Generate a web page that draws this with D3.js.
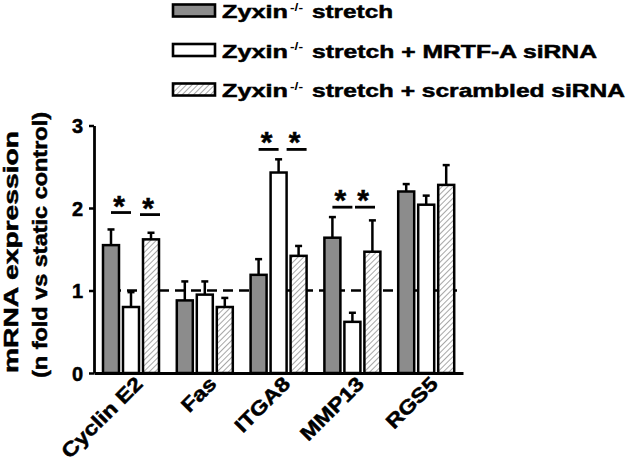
<!DOCTYPE html>
<html>
<head>
<meta charset="utf-8">
<script src="https://cdn.jsdelivr.net/npm/d3@7"></script>
<style>
  body { margin: 0; background: #fff; }
  svg text { font-family: "Liberation Sans", Arial, sans-serif; font-weight: bold; fill: #000; }
  .heavy { stroke: #000; stroke-width: 0.5px; }
</style>
</head>
<body>
<div id="plot"></div>
<script>
  // data
  var genes = ["Cyclin E2", "Fas", "ITGA8", "MMP13", "RGS5"];
  var groups = ["stretch", "mrtf", "scrambled"];
  var legendLabels = ["stretch", "stretch + MRTF-A siRNA", "stretch + scrambled siRNA"];

  var stretchMean   = [1.55, 0.88, 1.19, 1.64, 2.20];
  var stretchSem    = [0.19, 0.23, 0.19, 0.25, 0.09];
  var mrtfMean      = [0.80, 0.95, 2.43, 0.62, 2.04];
  var mrtfSem       = [0.18, 0.16, 0.16, 0.11, 0.11];
  var scrambledMean = [1.62, 0.80, 1.42, 1.47, 2.28];
  var scrambledSem  = [0.08, 0.11, 0.12, 0.38, 0.24];

  var yTicks = [0, 1, 2, 3];
  var refLevel = 1;

  // significance bars: gene, from/to bar index, level
  var sigGene  = ["Cyclin E2", "Cyclin E2", "ITGA8", "ITGA8", "MMP13", "MMP13"];
  var sigFrom  = [0, 1.45, 0, 1.4, 0, 1.13];
  var sigTo    = [1, 2.45, 1, 2.4, 1, 2.13];
  var sigLevel = [1.945, 1.92, 2.71, 2.71, 2.01, 2.01];

  var width = 626, height = 464;

  var svg = d3.select("#plot")
      .append("svg")
      .attr("width", width)
      .attr("height", height);

  var defs = svg.append("defs");
  defs.append("pattern")
      .attr("id", "hatch")
      .attr("patternUnits", "userSpaceOnUse")
      .attr("width", 4)
      .attr("height", 4)
      .attr("patternTransform", "rotate(45)")
    .call(function(p) {
      p.append("rect").attr("width", 4).attr("height", 4).attr("fill", "#fff");
      p.append("line").attr("x1", 0).attr("y1", 0).attr("x2", 0).attr("y2", 4)
        .attr("stroke", "#777").attr("stroke-width", 1.3);
    });

  var fills = {stretch: "#8c8c8c", mrtf: "#fff", scrambled: "url(#hatch)"};

  var x0 = d3.scaleBand().domain(genes).range([94, 463]);
  var x1 = d3.scaleBand().domain(groups).range([9, 65]).paddingInner(0.2);
  var y = d3.scaleLinear().domain([0, 3]).range([373, 125.5]);

  function barCenter(gene, i) {
    return x0(gene) + x1(groups[0]) + x1.bandwidth() / 2 + i * x1.step();
  }

  var data = [];
  genes.forEach(function(g, i) {
    data.push({gene: g, key: "stretch", mean: stretchMean[i], sem: stretchSem[i]});
    data.push({gene: g, key: "mrtf", mean: mrtfMean[i], sem: mrtfSem[i]});
    data.push({gene: g, key: "scrambled", mean: scrambledMean[i], sem: scrambledSem[i]});
  });

  // reference line
  svg.append("line")
    .attr("x1", barCenter(genes[0], 0))
    .attr("x2", x0.range()[1] - 1)
    .attr("y1", y(refLevel))
    .attr("y2", y(refLevel))
    .attr("stroke", "#000")
    .attr("stroke-width", 2.5)
    .attr("stroke-dasharray", "10,6");

  // error bars
  var eb = svg.selectAll(".err").data(data).enter().append("g").attr("class", "err");
  eb.append("line")
    .attr("x1", function(d) { return x0(d.gene) + x1(d.key) + x1.bandwidth() / 2; })
    .attr("x2", function(d) { return x0(d.gene) + x1(d.key) + x1.bandwidth() / 2; })
    .attr("y1", function(d) { return y(d.mean); })
    .attr("y2", function(d) { return y(d.mean + d.sem); })
    .attr("stroke", "#000").attr("stroke-width", 2.5);
  eb.append("line")
    .attr("x1", function(d) { return x0(d.gene) + x1(d.key) + x1.bandwidth() / 2 - 3.5; })
    .attr("x2", function(d) { return x0(d.gene) + x1(d.key) + x1.bandwidth() / 2 + 3.5; })
    .attr("y1", function(d) { return y(d.mean + d.sem); })
    .attr("y2", function(d) { return y(d.mean + d.sem); })
    .attr("stroke", "#000").attr("stroke-width", 2.5);

  // bars
  svg.selectAll(".bar")
    .data(data)
    .enter().append("rect")
      .attr("class", "bar")
      .attr("x", function(d) { return x0(d.gene) + x1(d.key); })
      .attr("width", x1.bandwidth())
      .attr("y", function(d) { return y(d.mean); })
      .attr("height", function(d) { return y(0) - y(d.mean); })
      .attr("fill", function(d) { return fills[d.key]; })
      .attr("stroke", "#000")
      .attr("stroke-width", 2.5);

  // significance
  var sig = sigGene.map(function(g, i) {
    return {gene: g, from: sigFrom[i], to: sigTo[i], level: sigLevel[i]};
  });
  svg.selectAll(".sig").data(sig).enter().append("line")
    .attr("x1", function(d) { return barCenter(d.gene, d.from); })
    .attr("x2", function(d) { return barCenter(d.gene, d.to); })
    .attr("y1", function(d) { return y(d.level); })
    .attr("y2", function(d) { return y(d.level); })
    .attr("stroke", "#000").attr("stroke-width", 2.8);
  svg.selectAll(".star").data(sig).enter().append("text")
    .attr("class", "heavy")
    .attr("x", function(d) { return (barCenter(d.gene, d.from) + barCenter(d.gene, d.to)) / 2 - 2; })
    .attr("y", function(d) { return y(d.level) + 3; })
    .attr("text-anchor", "middle")
    .style("font-size", "30px")
    .text("*");

  // y axis
  var yAxis = svg.append("g")
    .attr("transform", "translate(94,0)")
    .call(d3.axisLeft(y).tickValues(yTicks).tickFormat(d3.format("d"))
      .tickSize(5).tickSizeOuter(0).tickPadding(6));
  yAxis.select(".domain").attr("stroke-width", 2.8);
  yAxis.selectAll(".tick line").attr("stroke-width", 2.5);
  yAxis.selectAll(".tick text").attr("class", "heavy").style("font-size", "20px").attr("dy", "0.36em");

  // x axis
  var xAxis = svg.append("g")
    .attr("transform", "translate(0,373)")
    .call(d3.axisBottom(x0).tickSize(0).tickSizeOuter(0));
  xAxis.select(".domain").attr("stroke-width", 2.8);
  xAxis.selectAll(".tick text")
    .attr("class", "heavy")
    .attr("y", null).attr("dy", null)
    .attr("text-anchor", "end")
    .attr("transform", "translate(13,12) rotate(-45) scale(1.17,1)")
    .style("font-size", "20px");

  // y title
  var yTitle = svg.append("g");
  yTitle.append("text")
    .attr("class", "heavy")
    .attr("transform", "translate(18,252) rotate(-90)")
    .attr("text-anchor", "middle")
    .attr("textLength", 242)
    .attr("lengthAdjust", "spacingAndGlyphs")
    .style("font-size", "20px")
    .text("mRNA expression");
  yTitle.append("text")
    .attr("class", "heavy")
    .attr("transform", "translate(47,245) rotate(-90)")
    .attr("text-anchor", "middle")
    .attr("textLength", 266)
    .attr("lengthAdjust", "spacingAndGlyphs")
    .style("font-size", "20px")
    .text("(n fold vs static control)");

  // legend
  var legendY = [10.5, 50, 89.5];
  var legendEnd = [393, 597, 625];
  var legend = svg.selectAll(".legend").data(groups).enter().append("g")
    .attr("class", "legend")
    .attr("transform", function(d, i) { return "translate(0," + legendY[i] + ")"; });
  legend.append("rect")
    .attr("x", 173).attr("y", -6).attr("width", 42).attr("height", 12)
    .attr("fill", function(d) { return fills[d]; })
    .attr("stroke", "#000").attr("stroke-width", 2.6);
  legend.append("text")
    .attr("class", "heavy")
    .attr("x", 222).attr("y", 7.5)
    .attr("textLength", 66).attr("lengthAdjust", "spacingAndGlyphs")
    .style("font-size", "19px")
    .text("Zyxin");
  legend.append("text")
    .attr("x", 290).attr("y", 0)
    .attr("textLength", 13).attr("lengthAdjust", "spacingAndGlyphs")
    .style("font-size", "11px")
    .text("-/-");
  legend.append("text")
    .attr("class", "heavy")
    .attr("x", 312).attr("y", 7.5)
    .attr("textLength", function(d, i) { return legendEnd[i] - 312; })
    .attr("lengthAdjust", "spacingAndGlyphs")
    .style("font-size", "19px")
    .text(function(d, i) { return legendLabels[i]; });
</script>
</body>
</html>
